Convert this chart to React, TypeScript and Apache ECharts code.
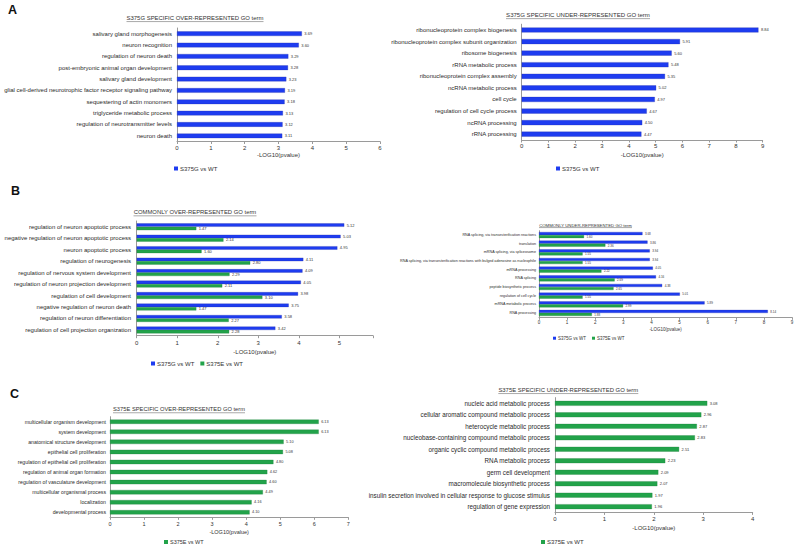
import React, { useEffect, useRef } from "react";
import * as echarts from "echarts";

const FONT = "'Liberation Sans', Arial, sans-serif";

// ---------- DATA ----------
const seriesG = "S375G vs WT";
const seriesE = "S375E vs WT";

const aLeftCategories = [
  "salivary gland morphogenesis",
  "neuron recognition",
  "regulation of neuron death",
  "post-embryonic animal organ development",
  "salivary gland development",
  "glial cell-derived neurotrophic factor receptor signaling pathway",
  "sequestering of actin monomers",
  "triglyceride metabolic process",
  "regulation of neurotransmitter levels",
  "neuron death",
];
const aLeftG = [3.69, 3.6, 3.29, 3.28, 3.23, 3.19, 3.18, 3.13, 3.12, 3.11];

const aRightCategories = [
  "ribonucleoprotein complex biogenesis",
  "ribonucleoprotein complex subunit organization",
  "ribosome biogenesis",
  "rRNA metabolic process",
  "ribonucleoprotein complex assembly",
  "ncRNA metabolic process",
  "cell cycle",
  "regulation of cell cycle process",
  "ncRNA processing",
  "rRNA processing",
];
const aRightG = [8.84, 5.91, 5.6, 5.48, 5.35, 5.02, 4.97, 4.67, 4.5, 4.47];

const bLeftCategories = [
  "regulation of neuron apoptotic process",
  "negative regulation of neuron apoptotic process",
  "neuron apoptotic process",
  "regulation of neurogenesis",
  "regulation of nervous system development",
  "regulation of neuron projection development",
  "regulation of cell development",
  "negative regulation of neuron death",
  "regulation of neuron differentiation",
  "regulation of cell projection organization",
];
const bLeftG = [5.12, 5.03, 4.95, 4.11, 4.09, 4.05, 3.98, 3.75, 3.58, 3.42];
const bLeftE = [1.47, 2.14, 1.6, 2.8, 2.29, 2.11, 3.1, 1.47, 2.27, 2.28];

const bRightCategories = [
  "RNA splicing, via transesterification reactions",
  "translation",
  "mRNA splicing, via spliceosome",
  "RNA splicing, via transesterification reactions with bulged adenosine as nucleophile",
  "mRNA processing",
  "RNA splicing",
  "peptide biosynthetic process",
  "regulation of cell cycle",
  "mRNA metabolic process",
  "RNA processing",
];
const bRightG = [3.68, 3.86, 3.94, 3.94, 4.05, 4.16, 4.38, 5.01, 5.89, 8.14];
const bRightE = [1.6, 2.36, 1.55, 1.55, 2.22, 2.69, 2.65, 1.55, 2.99, 1.88];

const cLeftCategories = [
  "multicellular organism development",
  "system development",
  "anatomical structure development",
  "epithelial cell proliferation",
  "regulation of epithelial cell proliferation",
  "regulation of animal organ formation",
  "regulation of vasculature development",
  "multicellular organismal process",
  "localization",
  "developmental process",
];
const cLeftE = [6.13, 6.13, 5.1, 5.08, 4.8, 4.62, 4.6, 4.49, 4.16, 4.1];

const cRightCategories = [
  "nucleic acid metabolic process",
  "cellular aromatic compound metabolic process",
  "heterocycle metabolic process",
  "nucleobase-containing compound metabolic process",
  "organic cyclic compound metabolic process",
  "RNA metabolic process",
  "germ cell development",
  "macromolecule biosynthetic process",
  "insulin secretion involved in cellular response to glucose stimulus",
  "regulation of gene expression",
];
const cRightE = [3.08, 2.96, 2.87, 2.83, 2.51, 2.23, 2.09, 2.07, 1.97, 1.96];

const panelTitles = [
  "S375G SPECIFIC OVER-REPRESENTED GO term",
  "S375G SPECIFIC UNDER-REPRESENTED GO term",
  "COMMONLY OVER-REPRESENTED GO term",
  "COMMONLY UNDER-REPRESENTED GO term",
  "S375E SPECIFIC OVER-REPRESENTED GO term",
  "S375E SPECIFIC UNDER-REPRESENTED GO term",
];
const panelLetters = ["A", "B", "C"];
const axisTitle = "-LOG10(pvalue)";

// ---------- STYLE ----------
const BLUE = "#1e3cf0";
const BLUE_BORDER = "#2530a8";
const GREEN = "#22a34a";
const GREEN_BORDER = "#1d7a3a";
const styleFor: Record<string, { color: string; border: string }> = {
  [seriesG]: { color: BLUE, border: BLUE_BORDER },
  [seriesE]: { color: GREEN, border: GREEN_BORDER },
};

function measure(text: string, size: number, weight = "normal") {
  const c = document.createElement("canvas").getContext("2d");
  if (!c) return text.length * size * 0.5;
  c.font = `${weight} ${size}px ${FONT}`;
  return c.measureText(text).width;
}

type Panel = {
  categories: string[];
  series: { name: string; data: number[] }[];
  left: number; top: number; width: number; height: number; max: number;
  barWidth: number; labelFont: number; labelMargin: number;
  tickFont: number; tickMargin: number; nameGap: number; nameFont: number;
  dataFont: number; legendLeft: number; legendTop: number; legendFont: number; legendIcon: number;
  title: string; titleCx: number; titleCy: number; titleW: number;
};

const panels: Panel[] = [
  {
    categories: aLeftCategories, series: [{ name: seriesG, data: aLeftG }],
    left: 177, top: 28, width: 203, height: 113.5, max: 6,
    barWidth: 4.6, labelFont: 6, labelMargin: 5, tickFont: 6, tickMargin: 3, nameGap: 10.5, nameFont: 6,
    dataFont: 4, legendLeft: 174, legendTop: 165.5, legendFont: 6, legendIcon: 4,
    title: panelTitles[0], titleCx: 195, titleCy: 18, titleW: 137,
  },
  {
    categories: aRightCategories, series: [{ name: seriesG, data: aRightG }],
    left: 521.7, top: 24.2, width: 241, height: 115.8, max: 9,
    barWidth: 5, labelFont: 6, labelMargin: 5, tickFont: 6, tickMargin: 3, nameGap: 12, nameFont: 6,
    dataFont: 4, legendLeft: 556, legendTop: 165.5, legendFont: 6, legendIcon: 4,
    title: panelTitles[1], titleCx: 578, titleCy: 15, titleW: 144,
  },
  {
    categories: bLeftCategories, series: [{ name: seriesG, data: bLeftG }, { name: seriesE, data: bLeftE }],
    left: 136.7, top: 221, width: 236.3, height: 114.7, max: 5.83,
    barWidth: 3.4, labelFont: 6, labelMargin: 5.7, tickFont: 6, tickMargin: 4, nameGap: 13, nameFont: 6,
    dataFont: 4, legendLeft: 151, legendTop: 360.5, legendFont: 6, legendIcon: 4,
    title: panelTitles[2], titleCx: 195, titleCy: 212.3, titleW: 123,
  },
  {
    categories: bRightCategories, series: [{ name: seriesG, data: bRightG }, { name: seriesE, data: bRightE }],
    left: 539, top: 230.7, width: 253, height: 86.6, max: 9,
    barWidth: 3, labelFont: 3.7, labelMargin: 3, tickFont: 4.5, tickMargin: 3, nameGap: 9.5, nameFont: 4.5,
    dataFont: 3, legendLeft: 553, legendTop: 335.7, legendFont: 4.5, legendIcon: 3,
    title: panelTitles[3], titleCx: 585.5, titleCy: 225, titleW: 93,
  },
  {
    categories: cLeftCategories, series: [{ name: seriesE, data: cLeftE }],
    left: 110, top: 416.7, width: 238.3, height: 100.6, max: 7,
    barWidth: 4.3, labelFont: 5.2, labelMargin: 4, tickFont: 5.5, tickMargin: 3.5, nameGap: 11.3, nameFont: 5.5,
    dataFont: 3.8, legendLeft: 164, legendTop: 539, legendFont: 5.5, legendIcon: 4,
    title: panelTitles[4], titleCx: 179, titleCy: 409.3, titleW: 132,
  },
  {
    categories: cRightCategories, series: [{ name: seriesE, data: cRightE }],
    left: 555, top: 397.6, width: 197.7, height: 114.8, max: 4,
    barWidth: 4.8, labelFont: 6.3, labelMargin: 5, tickFont: 6, tickMargin: 4, nameGap: 13, nameFont: 6,
    dataFont: 4, legendLeft: 541, legendTop: 539, legendFont: 6, legendIcon: 4,
    title: panelTitles[5], titleCx: 568.3, titleCy: 390, titleW: 140,
  },
];

function buildOption() {
  const grid: any[] = [];
  const xAxis: any[] = [];
  const yAxis: any[] = [];
  const series: any[] = [];
  const legend: any[] = [];
  const graphic: any[] = [];

  panels.forEach((p, i) => {
    grid.push({ left: p.left, top: p.top, width: p.width, height: p.height, containLabel: false });
    xAxis.push({
      type: "value", gridIndex: i, min: 0, max: p.max, interval: 1,
      splitLine: { show: false },
      axisLine: { show: true, lineStyle: { color: "#9a9a9a", width: 1 } },
      axisTick: { show: true, length: 2.5, lineStyle: { color: "#9a9a9a" } },
      axisLabel: {
        fontSize: p.tickFont, color: "#333", margin: p.tickMargin, fontFamily: FONT,
        formatter: (v: number) => (Math.abs(v - Math.round(v)) < 1e-6 ? String(Math.round(v)) : ""),
      },
      name: axisTitle, nameLocation: "middle", nameGap: p.nameGap,
      nameTextStyle: { fontSize: p.nameFont, color: "#333", fontFamily: FONT },
    });
    yAxis.push({
      type: "category", gridIndex: i, data: p.categories, inverse: true,
      axisLine: { show: true, lineStyle: { color: "#9a9a9a", width: 1 } },
      axisTick: { show: false },
      axisLabel: { fontSize: p.labelFont, margin: p.labelMargin, color: "#2a2a2a", fontFamily: FONT, interval: 0 },
    });
    p.series.forEach((s) => {
      const st = styleFor[s.name];
      series.push({
        type: "bar", name: s.name, xAxisIndex: i, yAxisIndex: i, data: s.data,
        barWidth: p.barWidth, barGap: "0%",
        itemStyle: { color: st.color, borderColor: st.border, borderWidth: 0.3 },
        label: {
          show: true, position: "right", distance: 2.5, fontSize: p.dataFont, color: "#333", fontFamily: FONT,
          formatter: (d: any) => Number(d.value).toFixed(2),
        },
      });
    });
    legend.push({
      left: p.legendLeft, top: p.legendTop, padding: 0, orient: "horizontal",
      data: p.series.map((s) => s.name), icon: "rect",
      itemWidth: p.legendIcon, itemHeight: p.legendIcon, itemGap: 6,
      itemStyle: { borderWidth: 0 },
      textStyle: { fontSize: p.legendFont, color: "#333", fontFamily: FONT, padding: [0, 0, 0, -3] },
      selectedMode: false,
    });
    const tSize = (10 * p.titleW) / measure(p.title, 10);
    graphic.push({
      type: "text", x: p.titleCx, y: p.titleCy,
      style: { text: p.title, fontSize: tSize, fontFamily: FONT, fill: "#333", textAlign: "center", textVerticalAlign: "middle" },
    });
    graphic.push({
      type: "line",
      shape: { x1: p.titleCx - p.titleW / 2, y1: p.titleCy + tSize * 0.6, x2: p.titleCx + p.titleW / 2, y2: p.titleCy + tSize * 0.6 },
      style: { stroke: "#555", lineWidth: 0.5 },
    });
  });

  const letterPos = [
    { x: 8, y: 3 },
    { x: 11, y: 184 },
    { x: 10, y: 387 },
  ];
  panelLetters.forEach((l, i) => {
    graphic.push({
      type: "text", x: letterPos[i].x, y: letterPos[i].y,
      style: { text: l, fontSize: 12.5, fontWeight: "bold", fontFamily: FONT, fill: "#111" },
    });
  });

  return {
    animation: false,
    backgroundColor: "#ffffff",
    grid, xAxis, yAxis, series, legend, graphic,
  };
}

export default function App() {
  const ref = useRef<HTMLDivElement>(null);
  useEffect(() => {
    if (!ref.current) return;
    const chart = echarts.init(ref.current, undefined, { renderer: "svg" });
    chart.setOption(buildOption() as any);
    return () => chart.dispose();
  }, []);
  return (
    <div
      ref={ref}
      style={{ position: "absolute", left: 0, top: 0, width: 797, height: 549, background: "#fff" }}
    />
  );
}
